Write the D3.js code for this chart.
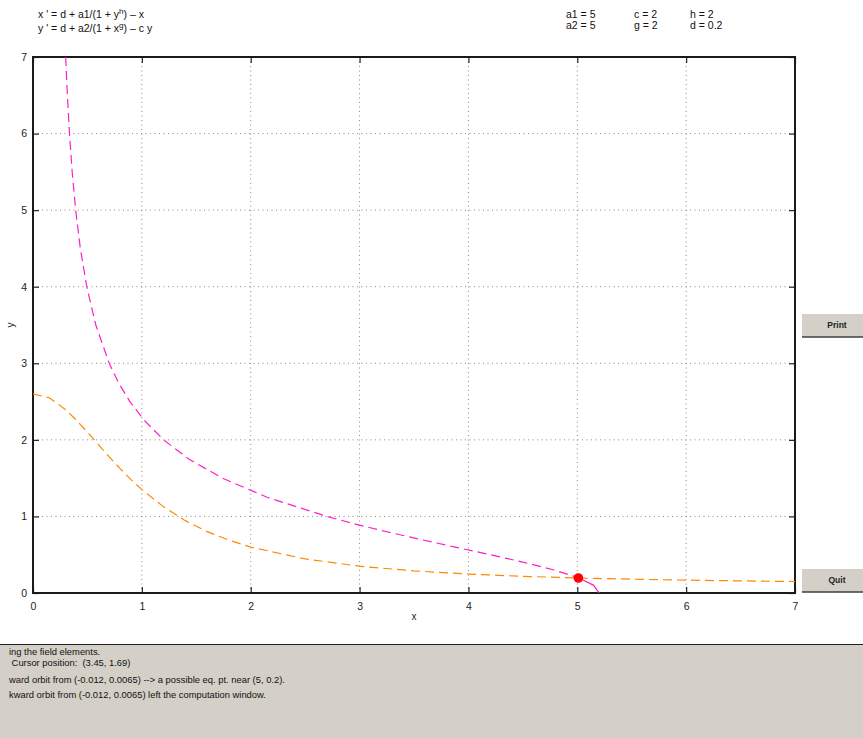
<!DOCTYPE html>
<html>
<head>
<meta charset="utf-8">
<script src="https://cdn.jsdelivr.net/npm/d3@7"></script>
<style>
  html, body { margin: 0; padding: 0; background: #fff; }
  svg { display: block; font-family: "Liberation Sans", Arial, sans-serif; }
</style>
</head>
<body>
<svg id="chart" width="863" height="738"></svg>
<script>
// Axis ticks
const xTicks = [0, 1, 2, 3, 4, 5, 6, 7];
const yTicks = [0, 1, 2, 3, 4, 5, 6, 7];

// x-nullcline (x' = 0): points as [x, y]
const xNullX = [0.300, 0.316, 0.335, 0.360, 0.392, 0.435, 0.494, 0.577, 0.700, 0.784, 0.890, 1.025, 1.200, 1.431, 1.739, 2.151, 2.700, 2.962, 3.249, 3.556, 3.877, 4.200, 4.510, 4.787, 5.008, 5.015];
const xNullY = [7.0, 6.5, 6.0, 5.5, 5.0, 4.5, 4.0, 3.5, 3.0, 2.75, 2.5, 2.25, 2.0, 1.75, 1.5, 1.25, 1.0, 0.9, 0.8, 0.7, 0.6, 0.5, 0.4, 0.3, 0.2, 0.196];
// short solid piece of the x-nullcline below the equilibrium
const xNullTailX = [5.015, 5.151, 5.200];
const xNullTailY = [0.196, 0.1, 0.0];

// y-nullcline (y' = 0): points as [x, y]
const yNullX = [0.0, 0.15, 0.3, 0.4, 0.5, 0.6, 0.7, 0.8, 0.9, 1.0, 1.2, 1.4, 1.6, 1.8, 2.0, 2.5, 3.0, 3.5, 4.0, 4.5, 5.0, 5.5, 6.0, 6.5, 7.0];
const yNullY = [2.6, 2.55, 2.394, 2.255, 2.1, 1.938, 1.778, 1.624, 1.481, 1.35, 1.125, 0.945, 0.802, 0.690, 0.6, 0.445, 0.35, 0.289, 0.247, 0.218, 0.196, 0.18, 0.168, 0.158, 0.15];

// equilibrium point
const eqPoint = [5.01, 0.196];

// header text
const eqLines = ["x ' = d + a1/(1 + y", "y ' = d + a2/(1 + x"];
const params = [["a1 = 5", "a2 = 5"], ["c = 2", "g = 2"], ["h = 2", "d = 0.2"]];

// message panel text
const messages = [
  "ing the field elements.",
  " Cursor position:  (3.45, 1.69)",
  "ward orbit from (-0.012, 0.0065) --> a possible eq. pt. near (5, 0.2).",
  "kward orbit from (-0.012, 0.0065) left the computation window."
];

const svg = d3.select("#chart");
const pLeft = 33, pRight = 795, pTop = 57, pBottom = 593;

const x = d3.scaleLinear().domain([0, 7]).range([pLeft, pRight]);
const y = d3.scaleLinear().domain([0, 7]).range([pBottom, pTop]);

// clip region for the plot
svg.append("defs").append("clipPath").attr("id", "plotclip")
  .append("rect").attr("x", pLeft).attr("y", pTop).attr("width", pRight - pLeft).attr("height", pBottom - pTop);

// dotted grid
const grid = svg.append("g");
grid.selectAll(".gx").data(xTicks.slice(1, -1)).join("line")
  .attr("x1", d => x(d)).attr("x2", d => x(d)).attr("y1", pTop).attr("y2", pBottom)
  .attr("stroke", "#888").attr("stroke-width", 1).attr("stroke-dasharray", "1,3.5");
grid.selectAll(".gy").data(yTicks.slice(1, -1)).join("line")
  .attr("x1", pLeft).attr("x2", pRight).attr("y1", d => y(d)).attr("y2", d => y(d))
  .attr("stroke", "#888").attr("stroke-width", 1).attr("stroke-dasharray", "1,3.5");

// axes with inward ticks
const axB = svg.append("g").attr("transform", `translate(0,${pBottom})`)
  .call(d3.axisBottom(x).tickValues(xTicks).tickSizeInner(-6).tickSizeOuter(0).tickPadding(10).tickFormat(d3.format("d")));
const axL = svg.append("g").attr("transform", `translate(${pLeft},0)`)
  .call(d3.axisLeft(y).tickValues(yTicks).tickSizeInner(-6).tickSizeOuter(0).tickPadding(6).tickFormat(d3.format("d")));
const axT = svg.append("g").attr("transform", `translate(0,${pTop})`)
  .call(d3.axisTop(x).tickValues(xTicks).tickSizeInner(-6).tickSizeOuter(0).tickFormat(""));
const axR = svg.append("g").attr("transform", `translate(${pRight},0)`)
  .call(d3.axisRight(y).tickValues(yTicks).tickSizeInner(-6).tickSizeOuter(0).tickFormat(""));
[axB, axL, axT, axR].forEach(a => {
  a.select(".domain").remove();
  a.selectAll(".tick line").attr("stroke", "#222").attr("stroke-width", 1.2);
  a.selectAll(".tick text").attr("font-size", 10.5).attr("fill", "#222")
    .attr("font-family", "Liberation Sans, Arial, sans-serif");
});

// frame
svg.append("rect").attr("x", pLeft).attr("y", pTop).attr("width", pRight - pLeft).attr("height", pBottom - pTop)
  .attr("fill", "none").attr("stroke", "#1a1a1a").attr("stroke-width", 2);

// axis titles
svg.append("text").attr("x", x(3.5)).attr("y", 620).attr("text-anchor", "middle")
  .attr("font-size", 10).attr("fill", "#222").text("x");
svg.append("text").attr("transform", `translate(14,${y(3.5)}) rotate(-90)`).attr("text-anchor", "middle")
  .attr("font-size", 10).attr("fill", "#222").text("y");

// nullclines
const line = d3.line().x(d => x(d[0])).y(d => y(d[1]));
const plot = svg.append("g").attr("clip-path", "url(#plotclip)");
plot.append("path").datum(d3.zip(yNullX, yNullY)).attr("d", line)
  .attr("fill", "none").attr("stroke", "#ff8800").attr("stroke-width", 1.2).attr("stroke-dasharray", "9,5");
plot.append("path").datum(d3.zip(xNullX, xNullY)).attr("d", line)
  .attr("fill", "none").attr("stroke", "#ff1fc8").attr("stroke-width", 1.2).attr("stroke-dasharray", "9,5");
plot.append("path").datum(d3.zip(xNullTailX, xNullTailY)).attr("d", line)
  .attr("fill", "none").attr("stroke", "#ff1fc8").attr("stroke-width", 1.2);

// equilibrium marker
svg.append("circle").attr("cx", x(eqPoint[0])).attr("cy", y(eqPoint[1])).attr("r", 4.8).attr("fill", "#ff0000");

// equations
const eqG = svg.append("g").attr("font-size", 10.5).attr("fill", "#111");
const t1 = eqG.append("text").attr("x", 38).attr("y", 18);
t1.append("tspan").text(eqLines[0]);
t1.append("tspan").attr("dy", -4).attr("font-size", 8).text("h");
t1.append("tspan").attr("dy", 4).text(") \u2013 x");
const t2 = eqG.append("text").attr("x", 38).attr("y", 32);
t2.append("tspan").text(eqLines[1]);
t2.append("tspan").attr("dy", -4).attr("font-size", 8).text("g");
t2.append("tspan").attr("dy", 4).text(") \u2013 c y");

// parameter values
const px = [566, 634, 690];
params.forEach((col, i) => {
  col.forEach((s, j) => {
    svg.append("text").attr("x", px[i]).attr("y", 18 + j * 11).attr("font-size", 10.5).attr("fill", "#111").text(s);
  });
});

// buttons
function button(yTop, label) {
  const g = svg.append("g");
  g.append("rect").attr("x", 802).attr("y", yTop).attr("width", 61).attr("height", 24).attr("fill", "#d4d0c8");
  g.append("line").attr("x1", 802).attr("x2", 863).attr("y1", yTop + 24).attr("y2", yTop + 24).attr("stroke", "#404040").attr("stroke-width", 1.5);
  g.append("line").attr("x1", 802).attr("x2", 863).attr("y1", yTop + 0.5).attr("y2", yTop + 0.5).attr("stroke", "#fff").attr("stroke-width", 1);
  g.append("text").attr("x", 837).attr("y", yTop + 15).attr("text-anchor", "middle")
    .attr("font-size", 8.5).attr("font-weight", "bold").attr("fill", "#222").text(label);
}
button(313, "Print");
button(568, "Quit");

// message panel
svg.append("rect").attr("x", 0).attr("y", 645).attr("width", 863).attr("height", 93).attr("fill", "#d4d0c8");
svg.append("line").attr("x1", 0).attr("x2", 863).attr("y1", 644.5).attr("y2", 644.5).attr("stroke", "#222").attr("stroke-width", 1.2);
const msgY = [655, 666, 683, 698];
messages.forEach((m, i) => {
  svg.append("text").attr("x", 9).attr("y", msgY[i]).attr("font-size", 9.4).attr("fill", "#111")
    .attr("xml:space", "preserve").style("white-space", "pre").text(m);
});
</script>
</body>
</html>
